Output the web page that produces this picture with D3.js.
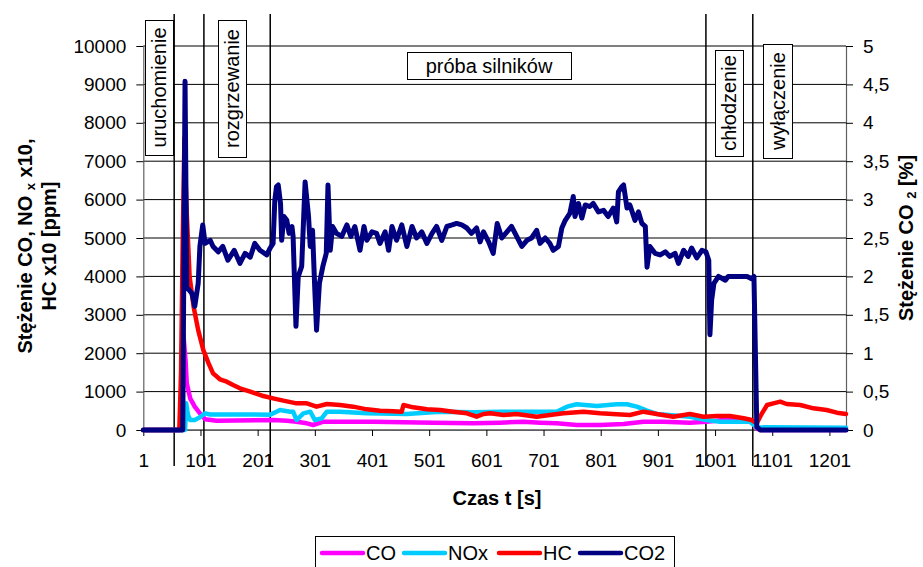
<!DOCTYPE html>
<html><head><meta charset="utf-8">
<script src="https://cdn.jsdelivr.net/npm/d3@7"></script>
<style>
body{margin:0;background:#fff}
svg{display:block;font-family:"Liberation Sans",Arial,sans-serif}
</style>
</head><body>
<svg id="chart" width="923" height="567"></svg>
<script>
// ---- data (time [s], value) ----
const seriesNames = ["CO", "NOx", "HC", "CO2"];
const seriesColors = ["#FF00FF", "#00CCFF", "#FF0000", "#000080"];

const coData = [[1,0],[69,0],[71,2500],[75,1800],[77,1215],[83,825],[91,608],[100,434],[109,278],[129,243],[228,260],[252,243],[269,217],[287,174],[298,130],[316,217],[403,217],[508,191],[578,174],[625,191],[666,217],[695,191],[724,174],[759,130],[800,130],[841,156],[876,217],[911,217],[957,191],[986,217],[1016,260],[1062,260],[1074,43],[1080,0],[1230,0]];

const noxData = [[1,0],[74,0],[76,694],[79,400],[83,260],[91,260],[100,330],[109,434],[118,405],[170,405],[223,400],[234,477],[240,521],[258,477],[263,477],[269,260],[281,434],[293,477],[301,260],[313,304],[322,477],[345,477],[392,434],[462,417],[520,477],[578,460],[625,477],[724,477],[742,608],[759,669],[794,625],[829,669],[847,669],[864,608],[882,503],[899,417],[957,347],[986,260],[1010,217],[1062,217],[1074,69],[1230,60]];

const hcData = [[1,0],[64,0],[67,1500],[70,5000],[73,7600],[75,6500],[77,5640],[82,3990],[89,3210],[97,2600],[106,2080],[115,1740],[123,1476],[135,1320],[147,1258],[158,1170],[170,1085],[188,998],[211,885],[228,825],[246,764],[269,694],[287,694],[304,608],[322,677],[345,651],[368,608],[392,538],[415,503],[438,486],[453,477],[456,651],[473,590],[497,538],[520,521],[543,477],[567,434],[584,347],[596,417],[608,434],[631,390],[654,417],[689,347],[712,390],[736,434],[771,477],[800,434],[829,408],[852,390],[876,477],[899,417],[928,347],[957,417],[981,347],[1004,365],[1027,365],[1051,304],[1065,260],[1074,174],[1083,434],[1092,651],[1103,694],[1115,738],[1126,677],[1150,651],[1173,564],[1196,521],[1214,451],[1230,417]];

// CO2 in % (right axis)
const co2Data = [[1,0],[70,0],[74,4.54],[77,1.86],[86,1.78],[91,1.61],[97,1.91],[100,2.39],[105,2.67],[109,2.43],[118,2.47],[123,2.39],[132,2.32],[140,2.39],[149,2.21],[160,2.34],[170,2.17],[179,2.30],[188,2.25],[196,2.43],[205,2.34],[217,2.28],[223,2.37],[228,2.43],[231,2.99],[234,3.17],[237,3.19],[241,2.95],[243,2.47],[247,2.78],[252,2.73],[256,2.56],[261,2.65],[263,2.52],[268,1.35],[272,2.0],[278,2.13],[284,3.23],[290,2.78],[293,2.39],[297,2.6],[301,1.82],[304,1.30],[309,1.91],[315,2.13],[321,2.30],[324,3.19],[328,2.34],[332,2.65],[339,2.56],[348,2.52],[357,2.67],[364,2.52],[371,2.65],[380,2.34],[387,2.65],[392,2.47],[401,2.58],[409,2.56],[415,2.43],[424,2.58],[430,2.34],[436,2.65],[444,2.47],[453,2.67],[462,2.39],[471,2.65],[479,2.50],[488,2.58],[497,2.43],[506,2.56],[514,2.65],[523,2.47],[532,2.65],[541,2.67],[549,2.69],[558,2.67],[567,2.63],[575,2.56],[584,2.63],[590,2.45],[596,2.58],[605,2.45],[613,2.30],[620,2.69],[628,2.50],[637,2.58],[645,2.65],[654,2.52],[663,2.39],[672,2.47],[680,2.50],[689,2.60],[695,2.43],[704,2.50],[712,2.43],[718,2.34],[727,2.39],[733,2.63],[739,2.73],[747,2.82],[753,3.04],[756,2.78],[762,2.95],[768,2.76],[774,2.93],[782,2.91],[788,2.95],[797,2.84],[806,2.86],[814,2.78],[823,2.89],[829,2.71],[832,3.10],[838,3.17],[841,3.19],[847,2.89],[852,2.93],[861,2.73],[867,2.84],[873,2.69],[879,2.65],[882,2.12],[887,2.39],[896,2.30],[905,2.28],[914,2.32],[922,2.26],[931,2.30],[937,2.17],[946,2.34],[954,2.26],[960,2.37],[969,2.24],[978,2.34],[985,2.32],[990,2.21],[992,1.24],[995,1.69],[999,1.91],[1007,2.0],[1019,1.95],[1024,2.0],[1033,2.0],[1057,2.0],[1065,1.97],[1069,2.0],[1074,0.04],[1080,0],[1230,0]];

const xTicks = [1,101,201,301,401,501,601,701,801,901,1001,1101,1201];
const leftTicks = [0,1000,2000,3000,4000,5000,6000,7000,8000,9000,10000];
const rightTicks = [0,0.5,1,1.5,2,2.5,3,3.5,4,4.5,5];
const phaseBounds = [55, 107, 223, 985, 1067];
const phaseLabels = ["uruchomienie","rozgrzewanie","próba silników","chłodzenie","wyłączenie"];

// ---- layout ----
const svg = d3.select("#chart");
const L = 143.3, R = 846, T = 46, B = 430;
const x = d3.scaleLinear().domain([1,1230]).range([L,R]);
const yL = d3.scaleLinear().domain([0,10000]).range([B,T]);
const yR = d3.scaleLinear().domain([0,5]).range([B,T]);

svg.append("rect").attr("width",923).attr("height",567).attr("fill","#fff");

// gridlines
svg.append("g").selectAll("line").data(leftTicks).join("line")
  .attr("x1",L).attr("x2",R).attr("y1",d=>yL(d)).attr("y2",d=>yL(d))
  .attr("stroke","#000").attr("stroke-width",1);

// phase label boxes
const boxes = [
  {i:0, x:145, y:20, w:28, h:135, rot:true},
  {i:1, x:218, y:20, w:28, h:137, rot:true},
  {i:2, x:407, y:52, w:164, h:27, rot:false},
  {i:3, x:715, y:50, w:28, h:106, rot:true},
  {i:4, x:763, y:44, w:29, h:114, rot:true}
];
const bg = svg.append("g");
boxes.forEach(b=>{
  bg.append("rect").attr("x",b.x+0.5).attr("y",b.y+0.5).attr("width",b.w).attr("height",b.h)
    .attr("fill","#fff").attr("stroke","#000").attr("stroke-width",1);
  if(b.rot){
    bg.append("text").attr("transform",`translate(${b.x+b.w/2+7},${b.y+b.h/2}) rotate(-90)`)
      .attr("text-anchor","middle").attr("font-size",20).attr("fill","#000").text(phaseLabels[b.i]);
  } else {
    bg.append("text").attr("x",b.x+b.w/2).attr("y",b.y+b.h/2+7)
      .attr("text-anchor","middle").attr("font-size",20).attr("fill","#000").text(phaseLabels[b.i]);
  }
});

// axes
const fmtR = d => String(d).replace(".",",");
const ax = svg.append("g").attr("transform",`translate(${L},0)`)
  .call(d3.axisLeft(yL).tickValues(leftTicks).tickSizeInner(7).tickSizeOuter(0).tickPadding(10).tickFormat(d=>d));
const axR = svg.append("g").attr("transform",`translate(${R},0)`)
  .call(d3.axisRight(yR).tickValues(rightTicks).tickSizeInner(7).tickSizeOuter(0).tickPadding(10).tickFormat(fmtR));
const axB = svg.append("g").attr("transform",`translate(0,${B})`)
  .call(d3.axisBottom(x).tickValues(xTicks).tickSizeInner(6).tickSizeOuter(0).tickPadding(18).tickFormat(d=>d));
[ax,axR,axB].forEach(g=>{
  g.select(".domain").attr("stroke","#606060").attr("stroke-width",1.2);
  g.selectAll(".tick line").attr("stroke","#000");
  g.selectAll(".tick text").attr("font-size",19).attr("fill","#000").attr("font-family","Liberation Sans, Arial, sans-serif");
});

// phase separator lines
svg.append("g").selectAll("line").data(phaseBounds).join("line")
  .attr("x1",d=>x(d)).attr("x2",d=>x(d)).attr("y1",14).attr("y2",466)
  .attr("stroke","#000").attr("stroke-width",1.5);

// series lines
const lineL = d3.line().x(d=>x(d[0])).y(d=>yL(d[1]));
const lineR = d3.line().x(d=>x(d[0])).y(d=>yR(d[1]));
const sets = [[coData,lineL],[noxData,lineL],[hcData,lineL],[co2Data,lineR]];
const widths = [4.5,4.5,4.5,5];
sets.forEach((s,i)=>{
  svg.append("path").datum(s[0]).attr("d",s[1]).attr("fill","none")
    .attr("stroke",seriesColors[i]).attr("stroke-width",widths[i])
    .attr("stroke-linejoin","round").attr("stroke-linecap","round");
});

// axis titles
const t1 = svg.append("text").attr("transform","translate(32,246) rotate(-90)")
  .attr("text-anchor","middle").attr("font-size",20).attr("font-weight","bold").attr("fill","#000");
t1.append("tspan").text("Stężenie CO, NO ");
t1.append("tspan").attr("font-size",13).attr("dy",3).text("x");
t1.append("tspan").attr("dy",-3).text(" x10,");
svg.append("text").attr("transform","translate(56,246) rotate(-90)")
  .attr("text-anchor","middle").attr("font-size",20).attr("font-weight","bold").attr("fill","#000")
  .text("HC x10 [ppm]");
const t2 = svg.append("text").attr("transform","translate(913,238) rotate(-90)")
  .attr("text-anchor","middle").attr("font-size",20).attr("font-weight","bold").attr("fill","#000");
t2.append("tspan").text("Stężenie CO ");
t2.append("tspan").attr("font-size",13).attr("dy",3).text("2");
t2.append("tspan").attr("dy",-3).text(" [%]");
svg.append("text").attr("x",497).attr("y",505).attr("text-anchor","middle")
  .attr("font-size",20).attr("font-weight","bold").attr("fill","#000").text("Czas t [s]");

// legend
const lg = svg.append("g");
lg.append("rect").attr("x",315.5).attr("y",536.5).attr("width",359).attr("height",45)
  .attr("fill","#fff").attr("stroke","#000").attr("stroke-width",1);
const legX = [322, 404, 499, 580];
seriesNames.forEach((n,i)=>{
  lg.append("line").attr("x1",legX[i]).attr("x2",legX[i]+41).attr("y1",553).attr("y2",553)
    .attr("stroke",seriesColors[i]).attr("stroke-width",4.5).attr("stroke-linecap","round");
  lg.append("text").attr("x",legX[i]+44).attr("y",560).attr("font-size",20).attr("fill","#000").text(n);
});
</script>
</body></html>
